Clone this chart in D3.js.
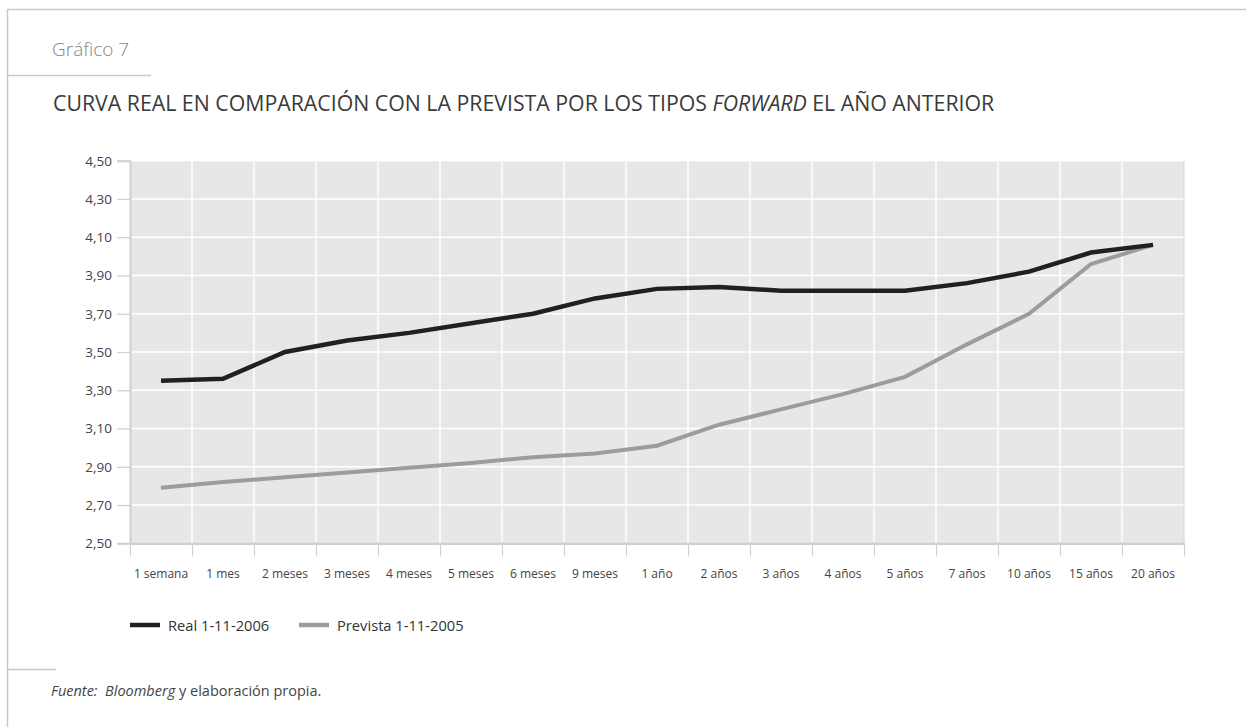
<!DOCTYPE html>
<html>
<head>
<meta charset="utf-8">
<script src="https://cdn.jsdelivr.net/npm/d3@7"></script>
<style>
  html, body { margin: 0; padding: 0; background: #ffffff; }
  svg { display: block; font-family: "Open Sans", "DejaVu Sans", sans-serif; }
</style>
</head>
<body>
<svg id="chart" width="1246" height="727"></svg>
<script>
// Plazos de la curva
const categories = ["1 semana", "1 mes", "2 meses", "3 meses", "4 meses", "5 meses", "6 meses", "9 meses",
  "1 año", "2 años", "3 años", "4 años", "5 años", "7 años", "10 años", "15 años", "20 años"];

// Curva real a 1-11-2006 (%)
const realValues = [3.35, 3.36, 3.50, 3.56, 3.60, 3.65, 3.70, 3.78,
  3.83, 3.84, 3.82, 3.82, 3.82, 3.86, 3.92, 4.02, 4.06];

// Curva prevista por los tipos forward a 1-11-2005 (%)
const previstaValues = [2.79, 2.82, 2.845, 2.87, 2.895, 2.92, 2.95, 2.97,
  3.01, 3.12, 3.20, 3.28, 3.37, 3.54, 3.70, 3.96, 4.06];

// Marcas del eje vertical
const yTicks = [2.50, 2.70, 2.90, 3.10, 3.30, 3.50, 3.70, 3.90, 4.10, 4.30, 4.50];

const seriesNames = ["Real 1-11-2006", "Prevista 1-11-2005"];

const svg = d3.select("#chart");

const plot = { left: 130, right: 1184, top: 160.7, bottom: 543.3 };

const x = d3.scaleBand().domain(categories).range([plot.left, plot.right]).padding(0);
const xEdges = d3.scaleLinear().domain([0, categories.length]).range([plot.left, plot.right]);
const y = d3.scaleLinear().domain([2.5, 4.5]).range([plot.bottom, plot.top]);
const fmt = v => d3.format(".2f")(v).replace(".", ",");

// Marco de la página
const frame = "#c9c9c9";
svg.append("line").attr("x1", 7.5).attr("x2", 1246).attr("y1", 9.5).attr("y2", 9.5)
  .attr("stroke", frame).attr("stroke-width", 1.5);
svg.append("line").attr("x1", 7.5).attr("x2", 7.5).attr("y1", 9).attr("y2", 727)
  .attr("stroke", frame).attr("stroke-width", 1.5);
svg.append("line").attr("x1", 7).attr("x2", 151).attr("y1", 75.5).attr("y2", 75.5)
  .attr("stroke", frame).attr("stroke-width", 1.5);
svg.append("line").attr("x1", 7).attr("x2", 56).attr("y1", 669.5).attr("y2", 669.5)
  .attr("stroke", frame).attr("stroke-width", 1.5);

// Cabecera
svg.append("text").attr("x", 52).attr("y", 56)
  .attr("font-size", 19).attr("font-weight", 300).attr("fill", "#858585")
  .text("Gráfico 7");

const title = svg.append("text").attr("x", 53).attr("y", 110.5)
  .attr("font-size", 21.3).attr("fill", "#3a3a3a");
title.append("tspan").text("CURVA REAL EN COMPARACIÓN CON LA PREVISTA POR LOS TIPOS ");
title.append("tspan").attr("font-style", "italic").text("FORWARD");
title.append("tspan").text(" EL AÑO ANTERIOR");

// Fondo del área de trazado
svg.append("rect")
  .attr("x", plot.left).attr("y", plot.top)
  .attr("width", plot.right - plot.left).attr("height", plot.bottom - plot.top)
  .attr("fill", "#e6e7e8");

// Rejilla
svg.append("g")
  .selectAll("line.h")
  .data(yTicks)
  .join("line")
  .attr("x1", plot.left).attr("x2", plot.right)
  .attr("y1", d => y(d)).attr("y2", d => y(d))
  .attr("stroke", "#ffffff").attr("stroke-width", 1.5);

svg.append("g")
  .selectAll("line.v")
  .data(d3.range(1, categories.length))
  .join("line")
  .attr("x1", d => xEdges(d)).attr("x2", d => xEdges(d))
  .attr("y1", plot.top).attr("y2", plot.bottom)
  .attr("stroke", "#ffffff").attr("stroke-width", 1.5);

svg.append("line")
  .attr("x1", plot.right).attr("x2", plot.right)
  .attr("y1", plot.top).attr("y2", plot.bottom)
  .attr("stroke", "#d6d6d6").attr("stroke-width", 1);

// Eje vertical
const yAxis = svg.append("g")
  .attr("transform", `translate(${plot.left},0)`)
  .call(d3.axisLeft(y).tickValues(yTicks).tickFormat(fmt).tickSize(13).tickPadding(5));
yAxis.select(".domain").attr("stroke", "#cfcfcf").attr("stroke-width", 2);
yAxis.selectAll(".tick line").attr("stroke", "#cfcfcf").attr("stroke-width", 1.2);
yAxis.selectAll(".tick text")
  .attr("font-family", "'Open Sans', sans-serif").attr("font-size", 13.5).attr("fill", "#444");

// Eje horizontal: marcas en los límites de cada plazo
const xAxisTicks = svg.append("g")
  .attr("transform", `translate(0,${plot.bottom})`)
  .call(d3.axisBottom(xEdges).tickValues(d3.range(0, categories.length + 1)).tickFormat("").tickSize(13).tickSizeOuter(0));
xAxisTicks.select(".domain").attr("stroke", "#cfcfcf").attr("stroke-width", 2.5);
xAxisTicks.selectAll(".tick line").attr("stroke", "#d2d2d2").attr("stroke-width", 1.2);

// Eje horizontal: etiquetas centradas en cada plazo
const xAxisLabels = svg.append("g")
  .attr("transform", `translate(0,${plot.bottom})`)
  .call(d3.axisBottom(x).tickSize(0).tickPadding(26));
xAxisLabels.select(".domain").remove();
xAxisLabels.selectAll(".tick text")
  .attr("font-family", "'Open Sans', sans-serif").attr("font-size", 12).attr("fill", "#444");

// Líneas
const line = d3.line()
  .x((d, i) => x(categories[i]) + x.bandwidth() / 2)
  .y(d => y(d));

svg.append("path").datum(previstaValues)
  .attr("d", line).attr("fill", "none")
  .attr("stroke", "#9c9c9e").attr("stroke-width", 4).attr("stroke-linejoin", "miter");

svg.append("path").datum(realValues)
  .attr("d", line).attr("fill", "none")
  .attr("stroke", "#231f20").attr("stroke-width", 4.5).attr("stroke-linejoin", "miter");

// Leyenda
const legendItems = [
  { name: seriesNames[0], color: "#231f20", x: 130 },
  { name: seriesNames[1], color: "#9c9c9e", x: 299 }
];
const legend = svg.append("g").selectAll("g").data(legendItems).join("g")
  .attr("transform", d => `translate(${d.x},625)`);
legend.append("line").attr("x1", 0).attr("x2", 30).attr("y1", 0).attr("y2", 0)
  .attr("stroke", d => d.color).attr("stroke-width", 4.5);
legend.append("text").attr("x", 38).attr("y", 5.5)
  .attr("font-size", 14.7).attr("fill", "#333").text(d => d.name);

// Fuente
const source = svg.append("text").attr("x", 51).attr("y", 695.5)
  .attr("font-size", 14.5).attr("fill", "#444");
source.append("tspan").attr("font-style", "italic").text("Fuente:\u00a0 Bloomberg");
source.append("tspan").text(" y elaboración propia.");
</script>
</body>
</html>
